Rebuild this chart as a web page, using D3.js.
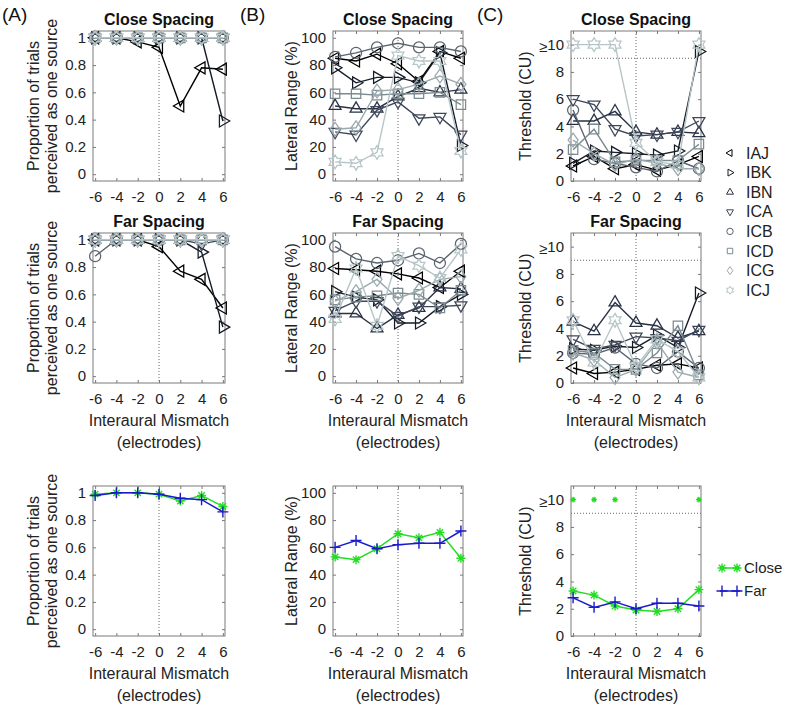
<!DOCTYPE html>
<html><head><meta charset="utf-8">
<script src="https://cdn.jsdelivr.net/npm/d3@7"></script>
<style>body{margin:0;background:#fff}svg{display:block;font-family:"Liberation Sans",Arial,sans-serif}</style>
</head><body><svg id="c" width="788" height="709"></svg>
<script>
// ---------- data ----------
const xVals = [-6, -4, -2, 0, 2, 4, 6];
const subjects = ["IAJ", "IBK", "IBN", "ICA", "ICB", "ICD", "ICG", "ICJ"];
const subjectSymbols = ["triLeft", "triRight", "triUp", "triDown", "circle", "square", "diamond", "hexagram"];
const subjectColors = ["#000000", "#161c27", "#283145", "#3e4759", "#5b636e", "#7b8a90", "#9aa9ad", "#b6c5c6"];

const propClose = [
  [1, 1, 0.97, 0.93, 0.50, 0.78, 0.77],
  [1, 1, 1, 1, 1, 1, 0.39],
  [1, 1, 1, 1, 1, 1, 1],
  [1, 1, 1, 1, 1, 1, 1],
  [1, 1, 1, 1, 1, 1, 1],
  [1, 1, 1, 1, 1, 1, 1],
  [1, 1, 1, 1, 1, 1, 1],
  [1, 1, 1, 1, 1, 1, 1]
];
const propFar = [
  [1, 1, 1, 0.95, 0.77, 0.71, 0.50],
  [1, 1, 1, 1, 1, 0.91, 0.36],
  [1, 1, 1, 1, 1, 1, 1],
  [1, 1, 1, 1, 1, 0.97, 1],
  [0.88, 1, 1, 1, 1, 1, 1],
  [1, 1, 1, 1, 1, 1, 1],
  [1, 1, 1, 1, 1, 1, 1],
  [1, 1, 1, 1, 1, 1, 1]
];
const latClose = [
  [85, 83, 88, 81, 68, 90, 85],
  [78, 67, 71, 71, 67, 89, 21],
  [50, 48, 48, 57, 63, 60, 62],
  [31, 29, 47, 53, 41, 42, 29],
  [86, 89, 93, 96, 93, 93, 90],
  [59, 59, 58, 59, 59, 60, 51],
  [33, 34, 61, 62, 66, 72, 66],
  [9, 8, 16, 87, 83, 83, 17]
];
const latFar = [
  [79, 78, 77, 75, 72, 65, 77],
  [62, 58, 56, 39, 39, 51, 60],
  [46, 46, 35, 45, 50, 65, 64],
  [48, 55, 55, 44, 51, 51, 52],
  [95, 86, 83, 85, 90, 83, 97],
  [56, 58, 59, 61, 60, 50, 63],
  [55, 62, 71, 57, 63, 71, 73],
  [42, 79, 37, 88, 81, 72, 93]
];
const thrClose = [
  [1.1, 1.8, 0.9, 1.2, 0.8, 1.2, 1.8],
  [1.3, 2.2, 2.1, 2.0, 1.9, 2.2, 9.5],
  [4.4, 4.4, 5.1, 3.6, 3.4, 3.6, 3.5],
  [6.0, 5.6, 3.8, 3.3, 3.4, 3.6, 4.4],
  [5.2, 1.6, 1.3, 1.0, 0.7, 1.5, 0.9],
  [2.3, 3.8, 1.4, 1.5, 1.5, 1.5, 2.7],
  [3.0, 2.0, 1.2, 1.6, 1.3, 0.9, 0.9],
  [10, 10, 10, 2.8, 1.4, 1.2, 10]
];
const thrFar = [
  [1.1, 0.7, 0.8, 1.0, 1.3, 1.4, 1.1],
  [2.5, 2.4, 2.7, 2.6, 3.5, 2.6, 6.6],
  [4.5, 3.8, 5.9, 4.4, 4.2, 3.3, 3.8],
  [3.2, 2.5, 2.8, 3.4, 3.3, 3.1, 3.9],
  [2.2, 2.1, 2.6, 1.4, 1.1, 2.3, 1.1],
  [2.4, 2.2, 1.0, 1.0, 2.2, 4.2, 0.6],
  [2.2, 1.7, 0.4, 1.0, 3.0, 0.8, 0.4],
  [4.6, 1.5, 4.6, 1.2, 3.2, 2.3, 0.4]
];
const propMeanClose = [0.99, 1.0, 1.0, 0.99, 0.94, 0.98, 0.90];
const propMeanFar = [0.98, 1.0, 1.0, 0.99, 0.96, 0.95, 0.86];
const latMeanClose = [53, 51, 59, 70, 67, 71, 52];
const latMeanFar = [60, 65, 59, 62, 63, 63, 72];
const thrMeanClose = [3.3, 3.0, 2.2, 1.9, 1.8, 2.0, 3.4];
const thrMeanFar = [2.8, 2.1, 2.5, 2.0, 2.4, 2.4, 2.2];
const thrCappedX = [-6, -4, -2, 6];
const thrCappedY = [10, 10, 10, 10];

const propTicks = [0, 0.2, 0.4, 0.6, 0.8, 1];
const latTicks = [0, 20, 40, 60, 80, 100];
const thrTicks = [0, 2, 4, 6, 8, 10];
const meanNames = ["Close", "Far"];
const meanColors = ["#22dd22", "#1a1ac8"];

// ---------- layout ----------
const svg = d3.select("#c");
const cols = { A: [93, 225], B: [333, 463], C: [571, 701] };
const rows = { top: [31, 181], mid: [233, 383], bot: [486, 636] };
const FONT = '"Liberation Sans", Arial, sans-serif';

function symPath(type, R) {
  const p = [];
  const poly = pts => "M" + pts.map(q => q[0].toFixed(2) + "," + q[1].toFixed(2)).join("L") + "Z";
  const tri = a0 => { for (let i = 0; i < 3; i++) { const a = (a0 + i * 120) * Math.PI / 180; p.push([R * Math.cos(a), R * Math.sin(a)]); } return poly(p); };
  switch (type) {
    case "triLeft": return tri(180);
    case "triRight": return tri(0);
    case "triUp": return tri(-90);
    case "triDown": return tri(90);
    case "circle": { const r = R * 0.8; return `M${r},0A${r},${r} 0 1,1 ${-r},0A${r},${r} 0 1,1 ${r},0Z`; }
    case "square": { const s = R * 0.68; return poly([[-s, -s], [s, -s], [s, s], [-s, s]]); }
    case "diamond": return poly([[0, -R], [R * 0.72, 0], [0, R], [-R * 0.72, 0]]);
    case "hexagram": {
      for (let i = 0; i < 12; i++) { const a = (i * 30 - 90) * Math.PI / 180; const rr = i % 2 ? R * 0.58 : R; p.push([rr * Math.cos(a), rr * Math.sin(a)]); }
      return poly(p);
    }
    case "asterisk": {
      let d = "";
      for (let i = 0; i < 4; i++) { const a = i * 45 * Math.PI / 180; d += `M${(-R * Math.cos(a)).toFixed(2)},${(-R * Math.sin(a)).toFixed(2)}L${(R * Math.cos(a)).toFixed(2)},${(R * Math.sin(a)).toFixed(2)}`; }
      return d;
    }
    case "plus": return `M${-R},0L${R},0M0,${-R}L0,${R}`;
  }
}

function panel(colKey, rowKey, domain, ticks, fmt, opts) {
  const [x0, x1] = cols[colKey], [y0, y1] = rows[rowKey];
  const x = d3.scaleLinear().domain([-6.2, 6.2]).range([x0, x1]);
  const y = d3.scaleLinear().domain(domain).range([y1, y0]);
  const g = svg.append("g");

  // zero line
  g.append("line").attr("x1", x(0)).attr("x2", x(0)).attr("y1", y0).attr("y2", y1)
    .attr("stroke", "#555").attr("stroke-width", 0.9).attr("stroke-dasharray", "1,2");
  if (opts.capLine) {
    g.append("line").attr("x1", x0).attr("x2", x1).attr("y1", y(9)).attr("y2", y(9))
      .attr("stroke", "#555").attr("stroke-width", 0.9).attr("stroke-dasharray", "1,2");
  }

  // axes
  const styleAxis = (ag) => {
    ag.select(".domain").remove();
    ag.attr("font-family", FONT).attr("font-size", 15);
    ag.selectAll(".tick line").attr("stroke", "#777");
    ag.selectAll(".tick text").attr("fill", "#222");
  };
  const left = g.append("g").attr("transform", `translate(${x0},0)`)
    .call(d3.axisLeft(y).tickValues(ticks).tickSize(-3).tickPadding(7).tickFormat(fmt));
  styleAxis(left);
  if (opts.capLine) {
    left.selectAll(".tick text").filter(d => d === 10).each(function () {
      const t = d3.select(this); t.text(null).attr("dy", null);
      t.append("tspan").attr("font-size", 15).attr("dy", 7).text("≥");
      t.append("tspan").attr("dy", -2.2).text("10");
    });
  }
  const right = g.append("g").attr("transform", `translate(${x1},0)`)
    .call(d3.axisRight(y).tickValues(ticks).tickSize(-3).tickFormat(""));
  styleAxis(right);
  const bottom = g.append("g").attr("transform", `translate(0,${y1})`)
    .call(d3.axisBottom(x).tickValues(xVals).tickSize(-3).tickPadding(10).tickFormat(d3.format("d")));
  styleAxis(bottom);
  bottom.selectAll(".tick text").text(d => d < 0 ? "-" + Math.abs(d) : d);
  const top = g.append("g").attr("transform", `translate(0,${y0})`)
    .call(d3.axisTop(x).tickValues(xVals).tickSize(-3).tickFormat(""));
  styleAxis(top);

  g.append("rect").attr("x", x0).attr("y", y0).attr("width", x1 - x0).attr("height", y1 - y0)
    .attr("fill", "none").attr("stroke", "#7a7a7a").attr("stroke-width", 1);

  // series
  const line = d3.line().x((d, i) => x(xVals[i])).y(d => y(d));
  opts.series.forEach(s => {
    g.append("path").attr("d", line(s.vals)).attr("fill", "none")
      .attr("stroke", s.color).attr("stroke-width", s.lw || 1.4);
    g.selectAll(null).data(s.vals).join("path")
      .attr("transform", (d, i) => `translate(${x(xVals[i])},${y(d)})`)
      .attr("d", symPath(s.sym, s.size)).attr("fill", "none")
      .attr("stroke", s.color).attr("stroke-width", s.mw || 1.25);
  });
  if (opts.extra) opts.extra(g, x, y);

  // title
  if (opts.title) {
    g.append("text").attr("x", (x0 + x1) / 2).attr("y", y0 - 12).attr("dy", "0.35em")
      .attr("text-anchor", "middle").attr("font-family", FONT).attr("font-weight", "bold")
      .attr("font-size", 16).attr("fill", "#111").text(opts.title);
  }
  // y label
  const cy = (y0 + y1) / 2;
  opts.ylabel.forEach((lab, i) => {
    g.append("text").attr("transform", `translate(${opts.ylabelX[i]},${cy}) rotate(-90)`)
      .attr("dy", "0.35em").attr("text-anchor", "middle").attr("font-family", FONT)
      .attr("font-size", 16).attr("fill", "#222").text(lab);
  });
  if (opts.xlabel) {
    g.append("text").attr("x", (x0 + x1) / 2).attr("y", y1 + 37).attr("dy", "0.35em")
      .attr("text-anchor", "middle").attr("font-family", FONT).attr("font-size", 16)
      .attr("fill", "#222").text("Interaural Mismatch");
    g.append("text").attr("x", (x0 + x1) / 2).attr("y", y1 + 59).attr("dy", "0.35em")
      .attr("text-anchor", "middle").attr("font-family", FONT).attr("font-size", 16)
      .attr("fill", "#222").text("(electrodes)");
  }
}

const subjSeries = data => data.map((vals, i) => ({ vals, color: subjectColors[i], sym: subjectSymbols[i], size: 6.9 }));
const meanSeries = (c, f) => [
  { vals: c, color: meanColors[0], sym: "asterisk", size: 4.5, lw: 1.5, mw: 1.4 },
  { vals: f, color: meanColors[1], sym: "plus", size: 5.5, lw: 1.5, mw: 1.4 }
];

const propFmt = d => d === 0 ? "0" : d === 1 ? "1" : d3.format(".1f")(d);
const intFmt = d3.format("d");
const propLab = ["Proportion of trials", "perceived as one source"], propLabX = [33, 51];
const latLab = ["Lateral Range (%)"], latLabX = [291];
const thrLab = ["Threshold (CU)"], thrLabX = [525];

panel("A", "top", [-0.05, 1.05], propTicks, propFmt, { title: "Close Spacing", series: subjSeries(propClose), ylabel: propLab, ylabelX: propLabX });
panel("A", "mid", [-0.05, 1.05], propTicks, propFmt, { title: "Far Spacing", series: subjSeries(propFar), ylabel: propLab, ylabelX: propLabX, xlabel: true });
panel("A", "bot", [-0.05, 1.05], propTicks, propFmt, { series: meanSeries(propMeanClose, propMeanFar), ylabel: propLab, ylabelX: propLabX, xlabel: true });

panel("B", "top", [-5, 105], latTicks, intFmt, { title: "Close Spacing", series: subjSeries(latClose), ylabel: latLab, ylabelX: latLabX });
panel("B", "mid", [-5, 105], latTicks, intFmt, { title: "Far Spacing", series: subjSeries(latFar), ylabel: latLab, ylabelX: latLabX, xlabel: true });
panel("B", "bot", [-5, 105], latTicks, intFmt, { series: meanSeries(latMeanClose, latMeanFar), ylabel: latLab, ylabelX: latLabX, xlabel: true });

panel("C", "top", [0, 11], thrTicks, intFmt, { title: "Close Spacing", capLine: true, series: subjSeries(thrClose), ylabel: thrLab, ylabelX: thrLabX });
panel("C", "mid", [0, 11], thrTicks, intFmt, { title: "Far Spacing", capLine: true, series: subjSeries(thrFar), ylabel: thrLab, ylabelX: thrLabX, xlabel: true });
panel("C", "bot", [0, 11], thrTicks, intFmt, {
  capLine: true, series: meanSeries(thrMeanClose, thrMeanFar), ylabel: thrLab, ylabelX: thrLabX, xlabel: true,
  extra: (g, x, y) => {
    g.selectAll(null).data(thrCappedX).join("path")
      .attr("transform", (d, i) => `translate(${x(d)},${y(thrCappedY[i])})`)
      .attr("d", symPath("asterisk", 2.8)).attr("fill", "none")
      .attr("stroke", meanColors[0]).attr("stroke-width", 1.3);
  }
});

// panel letters
[["(A)", 2], ["(B)", 240], ["(C)", 477]].forEach(([t, xx]) => {
  svg.append("text").attr("x", xx).attr("y", 14).attr("dy", "0.35em").attr("font-family", FONT)
    .attr("font-size", 19).attr("fill", "#111").text(t);
});

// subject legend
const lg = svg.append("g");
subjects.forEach((s, i) => {
  const yy = 153 + i * 19.6;
  lg.append("path").attr("transform", `translate(730,${yy})`).attr("d", symPath(subjectSymbols[i], 4))
    .attr("fill", "none").attr("stroke", subjectColors[i]).attr("stroke-width", 1);
  lg.append("text").attr("x", 746).attr("y", yy).attr("dy", "0.35em").attr("font-family", FONT)
    .attr("font-size", 16).attr("fill", "#222").text(s);
});

// mean legend
meanNames.forEach((n, i) => {
  const yy = 568 + i * 23;
  lg.append("line").attr("x1", 720).attr("x2", 740).attr("y1", yy).attr("y2", yy)
    .attr("stroke", meanColors[i]).attr("stroke-width", 1.5);
  [722, 737].forEach(xx => {
    lg.append("path").attr("transform", `translate(${xx},${yy})`)
      .attr("d", symPath(i === 0 ? "asterisk" : "plus", i === 0 ? 4.5 : 5.5))
      .attr("fill", "none").attr("stroke", meanColors[i]).attr("stroke-width", 1.4);
  });
  lg.append("text").attr("x", 744).attr("y", yy).attr("dy", "0.35em").attr("font-family", FONT)
    .attr("font-size", 15).attr("fill", "#222").text(n);
});
</script></body></html>
